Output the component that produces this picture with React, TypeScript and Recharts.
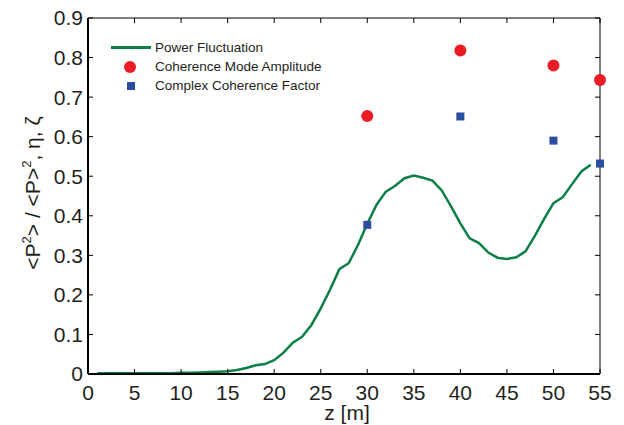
import {
  ComposedChart,
  Label,
  Legend,
  Line,
  Scatter,
  XAxis,
  YAxis,
} from "recharts";

const zSteps = [
  1, 2, 3, 4, 5, 6, 7, 8, 9, 10, 11, 12, 13, 14, 15, 16, 17, 18, 19, 20, 21,
  22, 23, 24, 25, 26, 27, 28, 29, 30, 31, 32, 33, 34, 35, 36, 37, 38, 39, 40,
  41, 42, 43, 44, 45, 46, 47, 48, 49, 50, 51, 52, 53, 54,
];
const powerFluct = [
  0.002, 0.002, 0.002, 0.002, 0.002, 0.002, 0.002, 0.002, 0.002, 0.003, 0.003,
  0.004, 0.005, 0.006, 0.007, 0.01, 0.015, 0.022, 0.025, 0.035, 0.054, 0.079,
  0.094, 0.124, 0.166, 0.213, 0.265, 0.28, 0.326, 0.38, 0.428, 0.461, 0.476,
  0.495, 0.502, 0.496, 0.489, 0.464, 0.424, 0.381, 0.343, 0.331, 0.307, 0.294,
  0.291, 0.295, 0.31, 0.349, 0.392, 0.432, 0.447, 0.48, 0.512, 0.529,
];
const modeZ = [30, 40, 50, 55];
const modeAmp = [0.652, 0.818, 0.78, 0.743];
const ccfZ = [30, 40, 50, 55];
const ccfValues = [0.377, 0.651, 0.59, 0.532];

const xTicks = [0, 5, 10, 15, 20, 25, 30, 35, 40, 45, 50, 55];
const yTicks = [0, 0.1, 0.2, 0.3, 0.4, 0.5, 0.6, 0.7, 0.8, 0.9];

const powerData = zSteps.map((z, i) => ({ z, p: powerFluct[i] }));
const modeData = modeZ.map((z, i) => ({ z, v: modeAmp[i] }));
const ccfData = ccfZ.map((z, i) => ({ z, v: ccfValues[i] }));

const INK = "#231f20";
const GREEN = "#0b7f47";
const RED = "#ed1c24";
const BLUE = "#2b4ea0";
const FONT = '"Liberation Sans", Arial, Helvetica, sans-serif';

// inward ticks drawn by hand, labels outside
const BottomTick = (props: any) => (
  <g>
    <line x1={props.x} x2={props.x} y1={props.y} y2={props.y - 5} stroke="black" strokeWidth={1} />
    <text x={props.x} y={props.y + 11} dy="0.71em" textAnchor="middle" fill={INK} fontSize={21} fontFamily={FONT}>
      {props.payload.value}
    </text>
  </g>
);
const LeftTick = (props: any) => (
  <g>
    <line x1={props.x} x2={props.x + 5} y1={props.y} y2={props.y} stroke="black" strokeWidth={1} />
    <text x={props.x - 5} y={props.y} dy="0.355em" textAnchor="end" fill={INK} fontSize={21} fontFamily={FONT}>
      {props.payload.value}
    </text>
  </g>
);
const TopTick = (props: any) => (
  <line x1={props.x} x2={props.x} y1={props.y} y2={props.y + 5} stroke="black" strokeWidth={1} />
);
const RightTick = (props: any) => (
  <line x1={props.x} x2={props.x - 5} y1={props.y} y2={props.y} stroke="black" strokeWidth={1} />
);

function LegendBox() {
  const row = { display: "flex", alignItems: "center", height: 19 } as const;
  const icon = { width: 44, height: 19, position: "relative" } as const;
  return (
    <div style={{ fontFamily: FONT, fontSize: 13.5, color: INK, whiteSpace: "nowrap" }}>
      <div style={row}>
        <div style={icon}>
          <div style={{ position: "absolute", left: 0, top: 8, width: 40, height: 2.5, background: GREEN }} />
        </div>
        <span>Power Fluctuation</span>
      </div>
      <div style={row}>
        <div style={icon}>
          <div style={{ position: "absolute", left: 13, top: 3.5, width: 12, height: 12, borderRadius: 6, background: RED }} />
        </div>
        <span>Coherence Mode Amplitude</span>
      </div>
      <div style={row}>
        <div style={icon}>
          <div style={{ position: "absolute", left: 16, top: 6, width: 8, height: 8, background: BLUE }} />
        </div>
        <span>Complex Coherence Factor</span>
      </div>
    </div>
  );
}

const circleShape = (props: any) => <circle cx={props.cx} cy={props.cy} r={6} fill={RED} />;
const squareShape = (props: any) => (
  <rect x={props.cx - 4} y={props.cy - 4} width={8} height={8} fill={BLUE} />
);

export default function App() {
  return (
    <div style={{ position: "relative", margin: "-8px 0 0 -8px", width: 624, height: 425 }}>
      <ComposedChart width={624} height={425} margin={{ top: 17, right: 23, bottom: 0, left: 0 }}>
        <XAxis
          xAxisId="top"
          orientation="top"
          type="number"
          dataKey="z"
          domain={[0, 55]}
          ticks={xTicks}
          height={1}
          tickSize={0}
          tickMargin={0}
          tickLine={false}
          tick={TopTick}
          axisLine={{ stroke: "black", strokeWidth: 1 }}
        />
        <YAxis
          yAxisId="right"
          orientation="right"
          type="number"
          domain={[0, 0.9]}
          ticks={yTicks}
          width={1}
          tickSize={0}
          tickMargin={0}
          tickLine={false}
          tick={RightTick}
          axisLine={{ stroke: "black", strokeWidth: 1 }}
        />
        <XAxis
          type="number"
          dataKey="z"
          domain={[0, 55]}
          ticks={xTicks}
          height={51}
          tickSize={0}
          tickMargin={0}
          tickLine={false}
          tick={BottomTick}
          axisLine={{ stroke: "black", strokeWidth: 2 }}
        >
          <Label
            content={() => (
              <text x={347} y={420} textAnchor="middle" fill={INK} fontSize={21} fontFamily={FONT}>
                z [m]
              </text>
            )}
          />
        </XAxis>
        <YAxis
          type="number"
          domain={[0, 0.9]}
          ticks={yTicks}
          width={88}
          tickSize={0}
          tickMargin={0}
          tickLine={false}
          tick={LeftTick}
          axisLine={{ stroke: "black", strokeWidth: 2 }}
        >
          <Label
            content={() => (
              <text
                transform="translate(40,193) rotate(-90)"
                textAnchor="middle"
                fill={INK}
                fontSize={21}
                fontFamily={FONT}
              >
                {"<P"}
                <tspan dy={-9} fontSize={13}>2</tspan>
                <tspan dy={9}>{"> / <P>"}</tspan>
                <tspan dy={-9} fontSize={13}>2</tspan>
                <tspan dy={9}>{", η, ζ"}</tspan>
              </text>
            )}
          />
        </YAxis>
        <Legend
          layout="horizontal"
          verticalAlign="middle"
          align="center"
          wrapperStyle={{ left: 111, top: 38, width: "auto" }}
          content={() => <LegendBox />}
        />
        <Line
          data={powerData}
          dataKey="p"
          xAxisId="top"
          yAxisId="right"
          stroke={GREEN}
          strokeWidth={2.5}
          dot={false}
          activeDot={false}
          isAnimationActive={false}
        />
        <Scatter data={modeData} dataKey="v" shape={circleShape} isAnimationActive={false} />
        <Scatter data={ccfData} dataKey="v" shape={squareShape} isAnimationActive={false} />
      </ComposedChart>
    </div>
  );
}
